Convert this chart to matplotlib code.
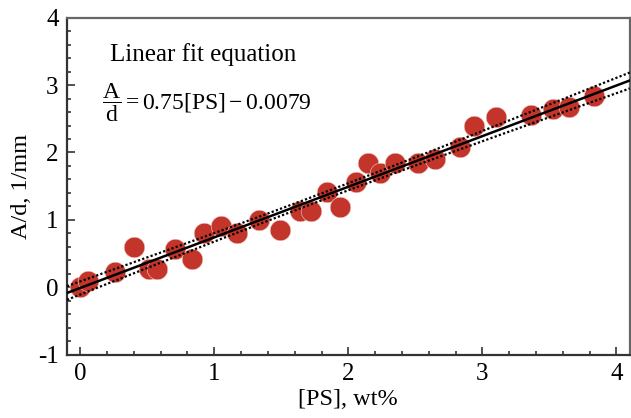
import numpy as np
import matplotlib
matplotlib.use('Agg')
import matplotlib.pyplot as plt
from matplotlib.ticker import MultipleLocator

plt.rcParams['font.family'] = ['Liberation Serif', 'DejaVu Serif']
plt.rcParams['mathtext.fontset'] = 'custom'
plt.rcParams['mathtext.rm'] = 'Liberation Serif'
plt.rcParams['mathtext.it'] = 'Liberation Serif:italic'
plt.rcParams['axes.unicode_minus'] = False

# measured points
ps_wt = [0.00, 0.06, 0.26, 0.40, 0.51, 0.57, 0.71, 0.83, 0.92, 1.05, 1.17,
         1.33, 1.49, 1.64, 1.72, 1.84, 1.94, 2.06, 2.15, 2.24, 2.35, 2.52,
         2.65, 2.83, 2.94, 3.10, 3.36, 3.53, 3.65, 3.83]
a_over_d = [0.00, 0.09, 0.23, 0.60, 0.28, 0.27, 0.57, 0.42, 0.80, 0.91, 0.80,
            1.00, 0.85, 1.14, 1.14, 1.42, 1.19, 1.56, 1.84, 1.70, 1.84, 1.84,
            1.90, 2.08, 2.39, 2.52, 2.56, 2.64, 2.68, 2.84]

# fit from the annotation
slope = 0.75
intercept = -0.0079


def main():
    x = np.array(ps_wt)
    y = np.array(a_over_d)

    fig = plt.figure(figsize=(6.31, 4.18), dpi=100)
    ax = fig.add_axes([0.106, 0.151, 0.892, 0.807])

    xx = np.linspace(-0.1, 4.1, 200)
    yy = slope * xx + intercept

    # 95% confidence band of the fit
    n = len(x)
    resid = y - (slope * x + intercept)
    s = np.sqrt(np.sum(resid ** 2) / (n - 2))
    sxx = np.sum((x - x.mean()) ** 2)
    half = 2.04 * s * np.sqrt(1.0 / n + (xx - x.mean()) ** 2 / sxx)

    ax.scatter(x, y, s=220, color='#c3342a', edgecolors='#f0cfca',
               linewidths=0.4, zorder=2)
    ax.plot(xx, yy, color='black', linewidth=1.8, zorder=3)
    ax.plot(xx, yy + half, color='black', linestyle=(0, (1, 1)), linewidth=1.6, zorder=3)
    ax.plot(xx, yy - half, color='black', linestyle=(0, (1, 1)), linewidth=1.6, zorder=3)

    ax.set_xlim(-0.1, 4.1)
    ax.set_ylim(-1, 4)
    ax.xaxis.set_major_locator(MultipleLocator(1))
    ax.xaxis.set_minor_locator(MultipleLocator(0.2))
    ax.yaxis.set_major_locator(MultipleLocator(1))
    ax.yaxis.set_minor_locator(MultipleLocator(0.2))
    ax.tick_params(which='both', direction='in', top=False, right=False,
                   color='#333333', width=1.2, labelsize=18)
    ax.tick_params(which='major', length=6, pad=6)
    ax.tick_params(which='minor', length=3)
    for side in ['left', 'bottom']:
        ax.spines[side].set_color('#333333')
        ax.spines[side].set_linewidth(1.6)
    for side in ['top', 'right']:
        ax.spines[side].set_color('#666666')
        ax.spines[side].set_linewidth(1.6)

    ax.set_xlabel('[PS], wt%', fontsize=17.5, labelpad=3)
    ax.set_ylabel('A/d, 1/mm', fontsize=17.5, labelpad=4)

    ax.text(0.92, 3.45, 'Linear fit equation', fontsize=18, ha='center', va='center')
    ax.text(0.16, 2.73, r'$\dfrac{\mathrm{A}}{\mathrm{d}}=0.75[\mathrm{PS}]-0.0079$',
            fontsize=17, ha='left', va='center')

    fig.savefig('out.png', dpi=100)


if __name__ == "__main__":
    main()
